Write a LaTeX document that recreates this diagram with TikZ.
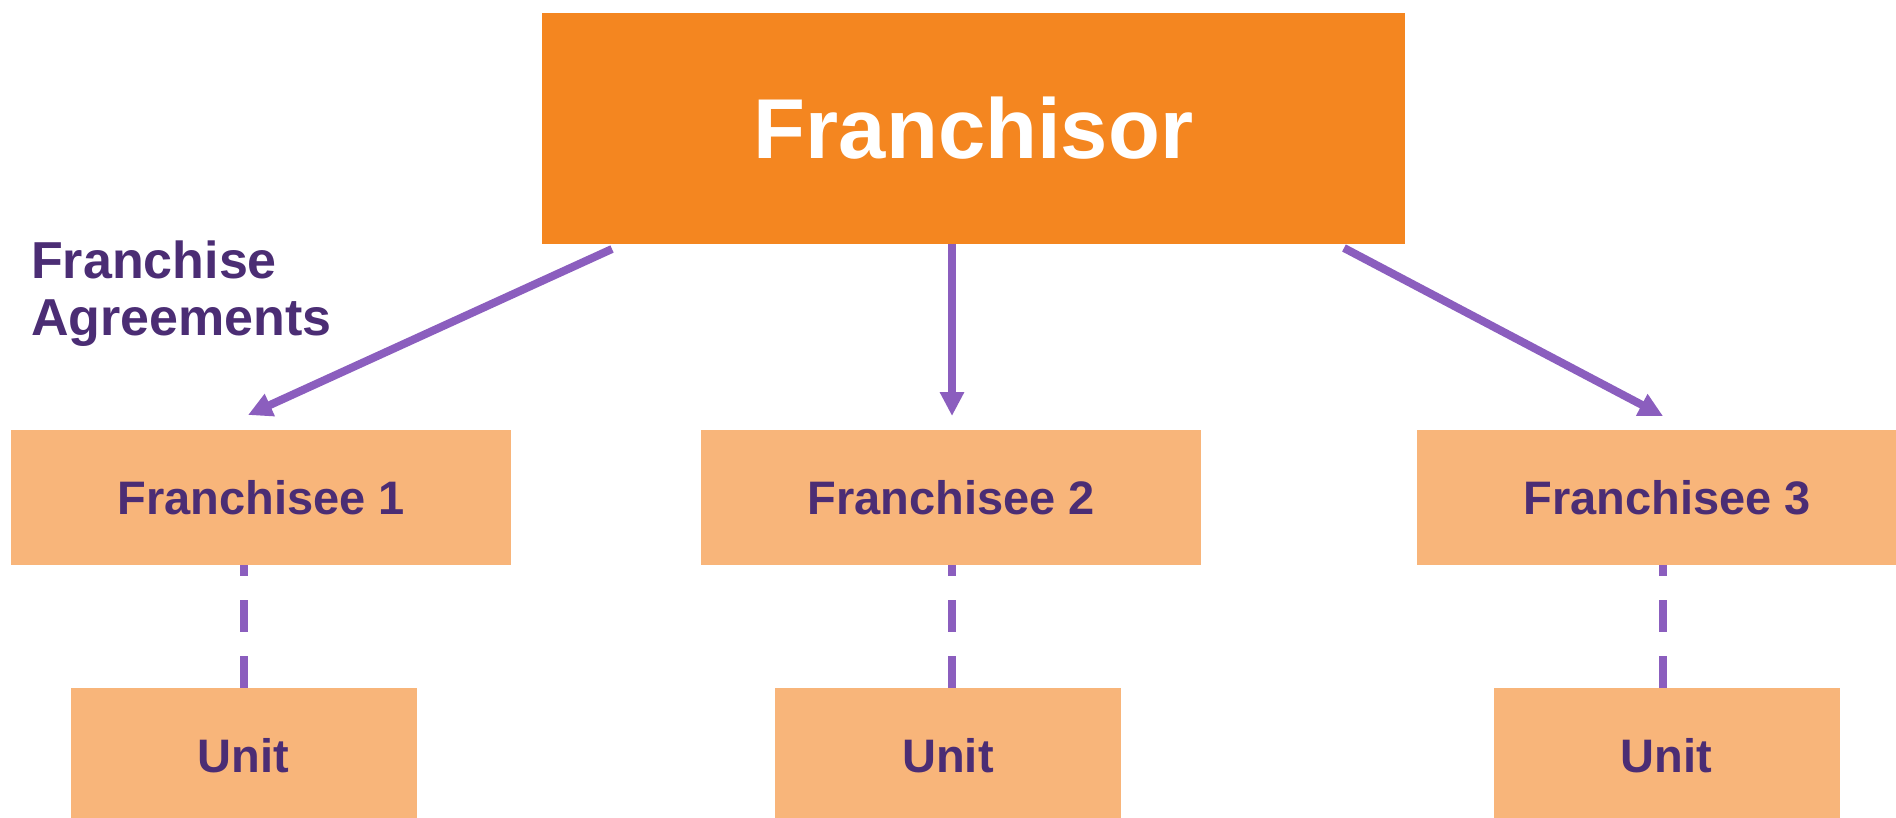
\documentclass[tikz,border=0pt]{standalone}
\usepackage{fontspec}
\setmainfont{Liberation Sans}
\usetikzlibrary{arrows.meta}
\definecolor{topor}{HTML}{F48620}
\definecolor{lightor}{HTML}{F8B57A}
\definecolor{txtpur}{HTML}{4B2D74}
\definecolor{arrpur}{HTML}{8B5EBE}
\tikzset{
  topbox/.style={fill=topor, draw=none, minimum width=863pt, minimum height=231pt, inner sep=0pt,
    text=white, font=\fontsize{85}{90}\selectfont\bfseries},
  subbox/.style={fill=lightor, draw=none, minimum width=500pt, minimum height=135pt, inner sep=0pt,
    text=txtpur, font=\fontsize{47}{52}\selectfont\bfseries},
  unitbox/.style={fill=lightor, draw=none, minimum width=346pt, minimum height=135pt, inner sep=0pt,
    text=txtpur, font=\fontsize{47}{52}\selectfont\bfseries},
  agree/.style={text=txtpur, inner sep=0pt, align=left, font=\fontsize{52}{57}\selectfont\bfseries},
  mainarrow/.style={draw=arrpur, line width=8pt, -{Triangle[width=23pt,length=24pt]}},
  dashlink/.style={draw=arrpur, line width=8pt, dash pattern=on 32pt off 24pt}
}
\begin{document}
\begin{tikzpicture}[x=1pt,y=-1pt]
\useasboundingbox (0,0) rectangle (1896,817);
\begin{scope}
\clip (0,0) rectangle (1896,817);
\node[topbox] (fr) at (973.5,128.5) {Franchisor};
\node[subbox] (f1) at (261,497.5) {Franchisee 1};
\node[subbox] (f2) at (951,497.5) {Franchisee 2};
\node[subbox] (f3) at (1667,497.5) {Franchisee 3};
\node[unitbox] (u1) at (243.5,755.5) {Unit};
\node[unitbox] (u2) at (948,755.5) {Unit};
\node[unitbox] (u3) at (1666.5,755.5) {Unit};
\node[agree, anchor=base west] (lab) at (31,335) {Franchise\\Agreements};
\coordinate (s1) at (612,249);
\coordinate (t1) at (248,415);
\coordinate (s2) at (952,244);
\coordinate (t2) at (952,416);
\coordinate (s3) at (1344,248);
\coordinate (t3) at (1663,416);
\draw[mainarrow] (s1) -- (t1);
\draw[mainarrow] (s2) -- (t2);
\draw[mainarrow] (s3) -- (t3);
\coordinate (d1) at (244,565);
\coordinate (d2) at (952,565);
\coordinate (d3) at (1663,565);
\draw[dashlink] (d1 |- u1.north) -- (d1);
\draw[dashlink] (d2 |- u2.north) -- (d2);
\draw[dashlink] (d3 |- u3.north) -- (d3);
\end{scope}
\end{tikzpicture}
\end{document}
